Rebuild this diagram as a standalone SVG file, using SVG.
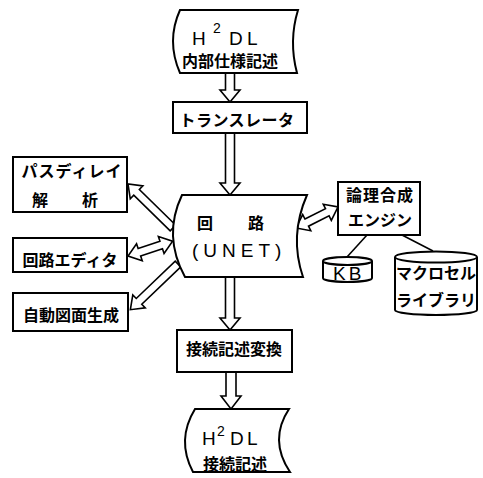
<svg xmlns="http://www.w3.org/2000/svg" width="483" height="478" viewBox="0 0 483 478">
<style>
.s{fill:#fff;stroke:#000;stroke-width:2;stroke-linejoin:miter}
.a{fill:#fff;stroke:#000;stroke-width:1.6;stroke-linejoin:miter}
.l{fill:none;stroke:#000;stroke-width:1.6}
.j{font-family:"Noto Sans CJK JP","Noto Sans CJK SC",sans-serif;font-weight:700;font-size:16px;fill:#000}
.e{font-family:"Liberation Sans","DejaVu Sans",sans-serif;font-size:19px;fill:#000}
.sup{font-family:"Liberation Sans","DejaVu Sans",sans-serif;font-size:14px;fill:#000}
</style>
<rect width="483" height="478" fill="#fff"/>
<g id="connectors">
<polygon class="a" points="225.5,73 225.5,90 220,90 230,102 240,90 234.5,90 234.5,73"/>
<polygon class="a" points="225.5,133 225.5,183 220,183 230,195 240,183 234.5,183 234.5,133"/>
<polygon class="a" points="225.5,277 225.5,318 220,318 230,330 240,318 234.5,318 234.5,277"/>
<polygon class="a" points="226,372 226,396 221,396 231,409 241,396 236,396 236,372"/>
<polygon class="a" transform="translate(173,228) rotate(-135.6)" points="0,-4 51,-4 51,-9 63,0 51,9 51,4 0,4"/>
<polygon class="a" transform="translate(128,256) rotate(-18.4)" points="12,-4 35,-4 35,-9 47,0 35,9 35,4 12,4 12,9 0,0 12,-9"/>
<polygon class="a" transform="translate(178,264) rotate(136.2)" points="0,-4 54,-4 54,-9 66,0 54,9 54,4 0,4"/>
<polygon class="a" transform="translate(296,228) rotate(-26.6)" points="12,-4 35,-4 35,-9 47,0 35,9 35,4 12,4 12,9 0,0 12,-9"/>
<line class="l" x1="367" y1="235" x2="347" y2="257"/>
<line class="l" x1="402" y1="235" x2="433" y2="251"/>
</g>
<g id="h2dl-spec">
<path class="s" d="M180,10 L298,10 Q288.5,41 297,73 L180,73 Q166,41 180,10 Z"/>
<text class="e" x="192" y="45">H</text>
<text class="sup" x="213" y="33">2</text>
<text class="e" x="229" y="45">D</text>
<text class="e" x="247" y="45">L</text>
<text class="j" x="230" y="67" text-anchor="middle">内部仕様記述</text>
</g>
<g id="translator">
<rect class="s" x="173" y="102" width="134" height="31"/>
<text class="j" x="237" y="126" text-anchor="middle" font-size="15" letter-spacing="0.5">トランスレータ</text>
</g>
<g id="unet">
<path class="s" d="M182,195 L307,195 Q289,236 303,277 L185,277 Q162.5,236 182,195 Z"/>
<text class="j" x="205" y="229" text-anchor="middle" font-size="15">回</text>
<text class="j" x="256" y="229" text-anchor="middle" font-size="15">路</text>
<text class="e" x="192" y="257" font-size="17" letter-spacing="5">(UNET)</text>
</g>
<g id="path-delay">
<rect class="s" x="13" y="157" width="114" height="55"/>
<text class="j" x="72" y="177" text-anchor="middle" letter-spacing="1">パスディレイ</text>
<text class="j" x="40" y="206" text-anchor="middle" font-size="15">解</text>
<text class="j" x="90" y="206" text-anchor="middle" font-size="15">析</text>
</g>
<g id="circuit-editor">
<rect class="s" x="13" y="238" width="114" height="34"/>
<text class="j" x="70" y="266" text-anchor="middle">回路エディタ</text>
</g>
<g id="auto-drawing">
<rect class="s" x="13" y="293" width="115" height="38"/>
<text class="j" x="71" y="321" text-anchor="middle">自動図面生成</text>
</g>
<g id="logic-synthesis">
<rect class="s" x="338" y="182" width="82" height="53"/>
<text class="j" x="380" y="201" text-anchor="middle" letter-spacing="1">論理合成</text>
<text class="j" x="380" y="226" text-anchor="middle">エンジン</text>
</g>
<g id="kb">
<path class="s" d="M323,261 L323,278 A24.5,4 0 0 0 372,278 L372,261"/>
<ellipse class="s" cx="347.5" cy="261" rx="24.5" ry="4"/>
<text class="e" x="333" y="280" font-size="17" letter-spacing="3">KB</text>
</g>
<g id="macrocell-library">
<path class="s" d="M395,257 L395,310 A41,5 0 0 0 477,310 L477,257"/>
<ellipse class="s" cx="436" cy="257" rx="41" ry="5.5"/>
<text class="j" x="436" y="279" text-anchor="middle" font-size="15.5">マクロセル</text>
<text class="j" x="436" y="306" text-anchor="middle" font-size="15.5">ライブラリ</text>
</g>
<g id="connection-convert">
<rect class="s" x="177" y="330" width="115" height="42"/>
<text class="j" x="234" y="355" text-anchor="middle">接続記述変換</text>
</g>
<g id="h2dl-connection">
<path class="s" d="M195,409 L289,409 Q268.5,440 290,472 L193,472 Q176,440 195,409 Z"/>
<text class="e" x="202" y="445">H</text>
<text class="sup" x="217" y="436">2</text>
<text class="e" x="230" y="445">D</text>
<text class="e" x="247" y="445">L</text>
<text class="j" x="235" y="470" text-anchor="middle">接続記述</text>
</g>
</svg>
